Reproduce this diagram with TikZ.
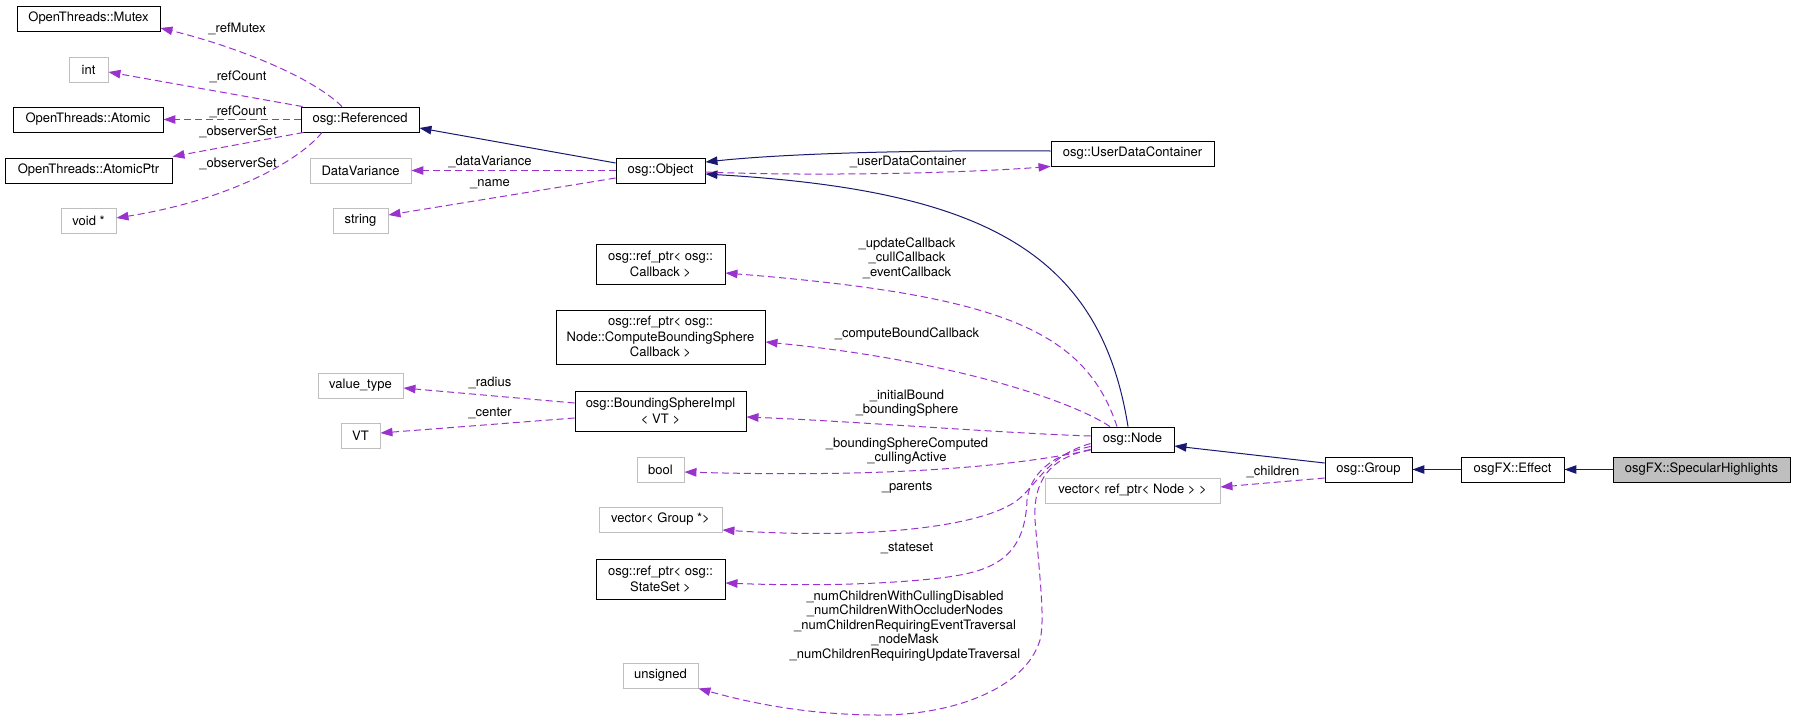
\documentclass[tikz,border=0pt]{standalone}
\usepackage{fontspec}
\setmainfont{TeX Gyre Heros}
\usetikzlibrary{arrows.meta}
\definecolor{inhblue}{HTML}{191970}
\definecolor{usepurple}{HTML}{9A32CD}
\definecolor{extgray}{HTML}{BFBFBF}
\begin{document}
\begin{tikzpicture}[x=1pt,y=-1pt,
  box/.style={draw=black, line width=0.9pt, inner sep=0pt, minimum height=25pt, align=center, font=\fontsize{13}{15.5}\selectfont},
  ext/.style={box, draw=extgray},
  inh/.style={draw=inhblue, line width=1pt, -{Triangle[length=12pt,width=8.5pt]}},
  use/.style={draw=usepurple, line width=1pt, dash pattern=on 7pt off 4pt, -{Triangle[length=12pt,width=8.5pt]}},
  lbl/.style={font=\fontsize{13}{14.5}\selectfont, align=center, inner sep=0pt},
]
\useasboundingbox (0,0) rectangle (1796,721);

% nodes
\node[box, minimum width=143pt] (mutex) at (88.5,18.5) {OpenThreads::Mutex};
\node[ext, minimum width=39pt] (int) at (88.5,69.5) {int};
\node[box, minimum width=150pt] (atomic) at (88,119.5) {OpenThreads::Atomic};
\node[box, minimum width=167pt] (atomicptr) at (88.5,170.5) {OpenThreads::AtomicPtr};
\node[ext, minimum width=55pt] (voidp) at (88.5,220.5) {void *};
\node[box, minimum width=118pt] (referenced) at (360,119.5) {osg::Referenced};
\node[ext, minimum width=101pt] (datavar) at (360.5,170.5) {DataVariance};
\node[ext, minimum width=55pt] (string) at (360.5,220.5) {string};
\node[box, minimum width=89pt] (object) at (660.5,170.5) {osg::Object};
\node[box, minimum width=163pt] (udc) at (1132.5,153.5) {osg::UserDataContainer};
\node[box, minimum width=129pt, minimum height=40pt] (callback) at (660.5,264) {osg::ref\_ptr< osg::\\Callback >};
\node[box, minimum width=209pt, minimum height=54pt] (cbs) at (660.5,337) {osg::ref\_ptr< osg::\\Node::ComputeBoundingSphere\\Callback >};
\node[ext, minimum width=85pt] (valuetype) at (360.5,385.5) {value\_type};
\node[ext, minimum width=39pt] (vt) at (360.5,435.5) {VT};
\node[box, minimum width=171pt, minimum height=40pt] (bsi) at (660.5,411) {osg::BoundingSphereImpl\\< VT >};
\node[ext, minimum width=47pt] (bool) at (660.5,469.5) {bool};
\node[ext, minimum width=123pt] (vecgroup) at (660.5,519.5) {vector< Group *>};
\node[box, minimum width=129pt, minimum height=40pt] (stateset) at (660.5,579) {osg::ref\_ptr< osg::\\StateSet >};
\node[ext, minimum width=75pt] (unsigned) at (660.5,675.5) {unsigned};
\node[box, minimum width=83pt] (node) at (1132.5,439.5) {osg::Node};
\node[ext, minimum width=175pt] (vecnode) at (1132.5,490.5) {vector< ref\_ptr< Node > >};
\node[box, minimum width=87pt] (group) at (1368.5,469.5) {osg::Group};
\node[box, minimum width=103pt] (effect) at (1512.5,469.5) {osgFX::Effect};
\node[box, minimum width=177pt, fill=extgray] (spec) at (1701.5,469.5) {osgFX::SpecularHighlights};

% inheritance
\draw[inh] ([yshift=7.5pt]object.west) -- ([yshift=-8.5pt]referenced.east);
\draw[inh] ([yshift=2.5pt]udc.west) .. controls (950,150) and (800,152) .. ([yshift=8.5pt]object.east);
\draw[inh] ([xshift=-4.5pt]node.north) .. controls (1100,250) and (980,190) .. ([yshift=-3.5pt]object.east);
\draw[inh] ([yshift=6.5pt]group.west) -- ([yshift=-6.5pt]node.east);
\draw[inh] (effect.west) -- (group.east);
\draw[inh] (spec.west) -- (effect.east);

% usage
\draw[use] ([xshift=-18pt]referenced.north) .. controls (310,75) and (230,45) .. ([yshift=-9.5pt]mutex.east);
\draw[use] ([xshift=2pt]referenced.north west) -- ([yshift=-2.5pt]int.east);
\draw[use] (referenced.west) -- (atomic.east);
\draw[use] ([xshift=3pt]referenced.south west) -- ([yshift=1pt]atomicptr.north east);
\draw[use] ([xshift=-38pt]referenced.south) .. controls (300,160) and (230,200) .. ([yshift=2.5pt]voidp.east);
\draw[use] (object.west) -- (datavar.east);
\draw[use] ([yshift=-7.5pt]object.west) -- ([yshift=5.5pt]string.east);
\draw[use] ([yshift=-1.5pt]object.east) .. controls (800,176) and (950,174) .. (udc.south west);
\draw[use] ([xshift=-15.5pt]node.north) .. controls (1085,330) and (1000,295) .. ([yshift=-9pt]callback.east);
\draw[use] ([xshift=-22.5pt]node.north) .. controls (1070,400) and (950,360) .. ([yshift=-5pt]cbs.east);
\draw[use] ([yshift=3.5pt]node.west) .. controls (1000,433) and (850,421) .. ([yshift=-6pt]bsi.east);
\draw[use] ([yshift=8pt]bsi.west) -- ([yshift=-2.5pt]valuetype.east);
\draw[use] ([yshift=-7pt]bsi.west) -- ([yshift=2.5pt]vt.east);
\draw[use] ([yshift=-10.5pt]node.west) .. controls (1020,465) and (900,478) .. ([yshift=-2.5pt]bool.east);
\draw[use] ([yshift=-4pt]node.west) .. controls (1050,455) and (1040,480) .. (1020,498) .. controls (990,525) and (880,540) .. ([yshift=-10.5pt]vecgroup.east);
\draw[use] ([yshift=-7pt]node.west) .. controls (1050,455) and (1030,475) .. (1027,500) .. controls (1025,560) and (990,572) .. (940,578) .. controls (880,585) and (800,586) .. ([yshift=-4pt]stateset.east);
\draw[use] ([yshift=-10pt]node.west) .. controls (1050,458) and (1033,480) .. (1035,520) .. controls (1040,580) and (1045,620) .. (1040,640) .. controls (1025,690) and (950,715) .. (880,715) .. controls (800,715) and (740,700) .. (unsigned.south east);
\draw[use] ([yshift=-8.5pt]group.west) -- ([yshift=3.5pt]vecnode.east);

% labels
\node[lbl] (l1) at (237,29) {\_refMutex};
\node[lbl] (l2) at (238,77) {\_refCount};
\node[lbl] (l3) at (238,112) {\_refCount};
\node[lbl] (l4) at (238,132) {\_observerSet};
\node[lbl] (l5) at (238,164) {\_observerSet};
\node[lbl] (l6) at (490,162) {\_dataVariance};
\node[lbl] (l7) at (490,184) {\_name};
\node[lbl] (l8) at (908,162) {\_userDataContainer};
\node[lbl] (l9) at (907,258) {\_updateCallback\\\_cullCallback\\\_eventCallback};
\node[lbl] (l10) at (907,334) {\_computeBoundCallback};
\node[lbl] (l11) at (907,403) {\_initialBound\\\_boundingSphere};
\node[lbl] (l12) at (907,451) {\_boundingSphereComputed\\\_cullingActive};
\node[lbl] (l13) at (907,488) {\_parents};
\node[lbl] (l14) at (907,548) {\_stateset};
\node[lbl] (l15) at (905,626) {\_numChildrenWithCullingDisabled\\\_numChildrenWithOccluderNodes\\\_numChildrenRequiringEventTraversal\\\_nodeMask\\\_numChildrenRequiringUpdateTraversal};
\node[lbl] (l16) at (490,383) {\_radius};
\node[lbl] (l17) at (490,413) {\_center};
\node[lbl] (l18) at (1273,472) {\_children};
\end{tikzpicture}
\end{document}
